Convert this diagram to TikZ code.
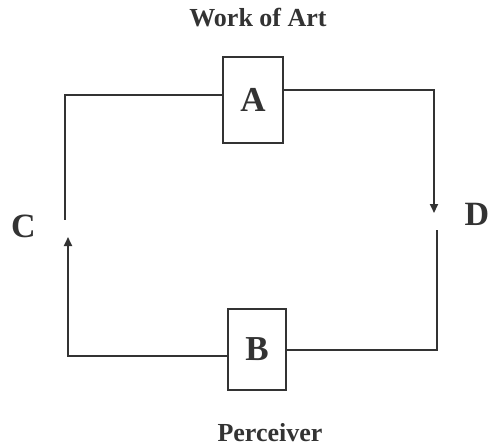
\documentclass[tikz,border=0pt]{standalone}
\usepackage{fontspec}
\setmainfont{Liberation Serif}
\usetikzlibrary{arrows.meta}
\definecolor{ink}{HTML}{333333}
\begin{document}
\begin{tikzpicture}[x=1pt,y=-1pt,
  link/.style={draw=ink,line width=2.1pt},
  arr/.style={link,-{Triangle[length=9pt,width=8pt]}},
  boxnode/.style={draw=ink,line width=2pt,inner sep=0pt,text=ink,font=\bfseries\fontsize{35}{40}\selectfont},
  letter/.style={text=ink,font=\bfseries\fontsize{34}{40}\selectfont,inner sep=0pt,anchor=base},
  title/.style={text=ink,font=\bfseries\fontsize{26}{30}\selectfont,inner sep=0pt,anchor=base}]
\useasboundingbox[fill=white] (0,0) rectangle (490,447);
\node[boxnode,minimum width=60pt,minimum height=86pt] (A) at (253,100) {A};
\node[boxnode,minimum width=58pt,minimum height=81pt] (B) at (257,349.5) {B};
\node[title] (work) at (258,27) {Work of Art};
\node[title] (perc) at (270,441) {Perceiver};
\node[letter] (C) at (23.5,237) {C};
\node[letter] (D) at (477,225) {D};
\coordinate (tl) at (65,95);
\coordinate (cend) at (65,220);
\coordinate (tr) at (434,90);
\coordinate (dtip) at (434,213);
\coordinate (dstart) at (437,230);
\coordinate (br) at (437,350);
\coordinate (bl) at (68,356);
\coordinate (ctip) at (68,237);
\draw[link] (A.west |- tl) -- (tl) -- (cend);
\draw[arr] (A.east |- tr) -- (tr) -- (dtip);
\draw[link] (dstart) -- (br) -- (B.east |- br);
\draw[arr] (B.west |- bl) -- (bl) -- (ctip);
\end{tikzpicture}
\end{document}
